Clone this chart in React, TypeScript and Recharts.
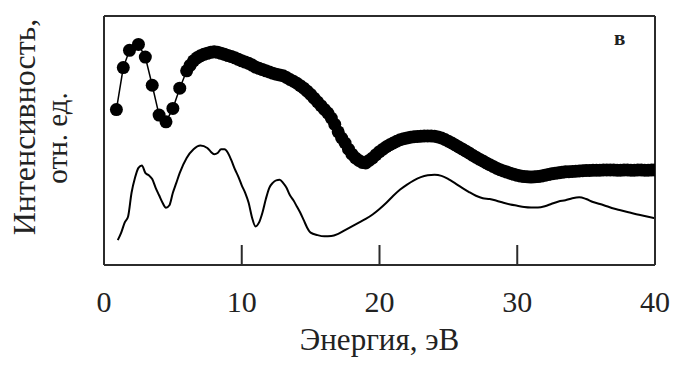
import {
  ComposedChart,
  Line,
  XAxis,
  YAxis,
  Label
} from 'recharts'

// ============================================
// DATA (energy, eV / intensity, arb. units)
// ============================================

const energyTicks = [0, 10, 20, 30, 40]

const measuredEnergy = [
  0.9, 1.4, 1.85, 2.5, 3.0, 3.5, 4.0, 4.5, 5.0, 5.5,
  6.0, 6.25, 6.5, 6.75, 7.0, 7.25, 7.5, 7.75, 8.0, 8.25, 8.5, 8.75, 9.0, 9.25, 9.5, 9.75,
  10.0, 10.25, 10.5, 10.75, 11.0, 11.25, 11.5, 11.75, 12.0, 12.25, 12.5, 12.75, 13.0, 13.25,
  13.5, 13.75, 14.0, 14.25, 14.5, 14.75, 15.0, 15.25, 15.5, 15.75, 16.0, 16.25, 16.5, 16.75,
  17.0, 17.25, 17.5, 17.75, 18.0, 18.25, 18.5, 18.75, 19.0, 19.25, 19.5, 19.75,
  20.0, 20.25, 20.5, 20.75, 21.0, 21.25, 21.5, 21.75, 22.0, 22.25, 22.5, 22.75, 23.0, 23.25,
  23.5, 23.75, 24.0, 24.25, 24.5, 24.75, 25.0, 25.25, 25.5, 25.75, 26.0, 26.25, 26.5, 26.75,
  27.0, 27.25, 27.5, 27.75, 28.0, 28.25, 28.5, 28.75, 29.0, 29.25, 29.5, 29.75,
  30.0, 30.25, 30.5, 30.75, 31.0, 31.25, 31.5, 31.75, 32.0, 32.25, 32.5, 32.75, 33.0, 33.25,
  33.5, 33.75, 34.0, 34.25, 34.5, 34.75, 35.0, 35.25, 35.5, 35.75, 36.0, 36.25, 36.5, 36.75,
  37.0, 37.25, 37.5, 37.75, 38.0, 38.25, 38.5, 38.75, 39.0, 39.25, 39.5, 39.75, 40.0
]
const measuredIntensity = [
  62.4, 79.3, 86.2, 88.6, 83.5, 72.2, 60.2, 57.5, 62.9, 71,
  78, 80.2, 82, 83.2, 84, 84.6, 85, 85.4, 85.6, 85.4, 85, 84.6, 84.1, 83.7, 83.2, 82.6,
  82, 81.5, 81, 80.3, 79.5, 79, 78.5, 78, 77.5, 77, 76.6, 76.3, 76, 75.3,
  74.5, 73.8, 73, 72, 71, 69.8, 68.5, 67, 65.5, 64, 62.5, 61, 59, 56.5,
  53.5, 51, 49, 46.5, 44.5, 43, 42, 41.2, 41, 42, 43, 44.3,
  45.5, 46.5, 47.5, 48.3, 49, 49.7, 50.3, 50.7, 51, 51.3, 51.5, 51.6, 51.7, 51.8,
  51.8, 51.8, 51.7, 51.4, 51, 50.4, 49.7, 49, 48.2, 47.4, 46.6, 45.8, 45, 44.1,
  43.3, 42.5, 41.8, 41, 40.3, 39.6, 38.9, 38.3, 37.8, 37.3, 36.8, 36.4,
  36, 35.7, 35.5, 35.4, 35.3, 35.4, 35.5, 35.7, 36, 36.3, 36.6, 36.8, 37, 37.2,
  37.4, 37.5, 37.6, 37.7, 37.8, 37.9, 38, 38, 38.1, 38.1, 38.1, 38.2, 38.2, 38.2,
  38.2, 38.1, 38.1, 38.2, 38.2, 38.1, 38.1, 38.2, 38.2, 38.1, 38.1, 38.2, 38.2
]

const calcEnergy = [
  1.0, 1.25, 1.5, 1.75, 2.0, 2.25, 2.5, 2.75, 3.0, 3.25, 3.5, 3.75, 4.0, 4.25, 4.5, 4.75,
  5.0, 5.25, 5.5, 6.0, 6.5, 7.0, 7.5, 7.75, 8.0, 8.25, 8.5, 8.75, 9.0, 9.25, 9.5, 9.75,
  10.0, 10.25, 10.5, 10.75, 11.0, 11.25, 11.5, 11.75, 12.0, 12.25, 12.5, 12.75, 13.0, 13.25,
  13.5, 13.75, 14.0, 14.25, 14.5, 14.75, 15.0, 15.5, 16.0, 16.5, 17.0, 17.5, 18.0, 18.5,
  19.0, 19.5, 20.0, 20.5, 21.0, 21.5, 22.0, 22.5, 23.0, 23.5, 24.0, 24.5, 25.0, 25.5, 26.0,
  26.5, 27.0, 27.5, 28.0, 28.5, 29.0, 29.5, 30.0, 30.5, 31.0, 31.5, 32.0, 32.5, 33.0, 33.5,
  34.0, 34.5, 35.0, 35.5, 36.0, 36.5, 37.0, 37.5, 38.0, 38.5, 39.0, 39.5, 40.0
]
const calcIntensity = [
  10, 13, 17, 19.5, 29, 35, 39, 40, 37, 36, 34.5, 31, 28, 25, 23, 24,
  29, 33, 37, 43, 46.5, 48, 47, 45.5, 44.5, 45, 46.5, 46.5, 45, 42, 38.5, 35.5,
  32, 29, 25, 19, 15.5, 17, 21, 26.5, 31, 33, 34, 34.2, 33, 31,
  28, 26, 23.5, 21, 18, 15, 13, 12, 11.5, 11.6, 12.5, 14, 15.5, 17,
  18.5, 20.3, 22.5, 25, 27.8, 30.3, 32.3, 34, 35.3, 36, 36.2, 35.8, 34.5, 32.8, 31,
  29.3, 27.8, 26.8, 26.5, 25.8, 25, 24.3, 23.8, 23.3, 23.1, 23.1, 23.6, 24.6, 25.5, 26,
  26.8, 27.2, 26.5, 25.3, 24.5, 23.6, 22.7, 22, 21.3, 20.6, 20, 19.4, 18.8
]

const measured = measuredEnergy.map((e, i) => ({ e, v: measuredIntensity[i] }))
const calc = calcEnergy.map((e, i) => ({ e, v: calcIntensity[i] }))

const FONT = '"Liberation Serif", "Times New Roman", serif'
const FRAME = '#2b2b2b'

const YTitle = () => (
  <g fontFamily={FONT} fill="#222">
    <text x={35} y={127} fontSize={32} textAnchor="middle" transform="rotate(-90 35 127)">
      Интенсивность,
    </text>
    <text x={67} y={138} fontSize={29} textAnchor="middle" transform="rotate(-90 67 138)">
      отн. ед.
    </text>
  </g>
)

const PanelLetter = () => (
  <text x={614} y={45} fontFamily={FONT} fontSize={21} fontWeight="bold" fill="#222">
    в
  </text>
)

export default function App() {
  return (
    <div style={{ position: 'absolute', left: 0, top: 0 }}>
      <ComposedChart
        width={673}
        height={368}
        margin={{ top: 15, right: 17, bottom: 0, left: 0 }}
        style={{ background: '#fff' }}
      >
        <XAxis
          dataKey="e"
          type="number"
          domain={[0, 40]}
          ticks={energyTicks}
          allowDataOverflow
          height={103}
          stroke={FRAME}
          strokeWidth={2}
          tickSize={-20}
          tickMargin={46}
          tick={{ fontSize: 30, fontFamily: FONT, fill: '#222' }}
        >
          <Label
            value="Энергия, эВ"
            position="insideBottom"
            offset={18}
            style={{ fontSize: 31, fontFamily: FONT, fill: '#222' }}
          />
        </XAxis>
        <XAxis
          xAxisId="top"
          dataKey="e"
          type="number"
          domain={[0, 40]}
          orientation="top"
          height={1}
          stroke={FRAME}
          strokeWidth={2}
          tick={false}
          tickLine={false}
        />
        <YAxis
          type="number"
          domain={[0, 100]}
          width={104}
          stroke={FRAME}
          strokeWidth={2}
          tick={false}
          tickLine={false}
        >
          <Label content={<YTitle />} />
        </YAxis>
        <YAxis
          yAxisId="right"
          type="number"
          domain={[0, 100]}
          orientation="right"
          width={1}
          stroke={FRAME}
          strokeWidth={2}
          tick={false}
          tickLine={false}
        >
          <Label content={<PanelLetter />} />
        </YAxis>
        <Line
          data={calc}
          dataKey="v"
          type="monotone"
          stroke="#000"
          strokeWidth={2}
          dot={false}
          isAnimationActive={false}
        />
        <Line
          data={measured}
          dataKey="v"
          type="linear"
          stroke="#000"
          strokeWidth={1.5}
          dot={{ r: 6.5, fill: '#000', stroke: '#000', strokeWidth: 0 }}
          isAnimationActive={false}
        />
      </ComposedChart>
    </div>
  )
}
